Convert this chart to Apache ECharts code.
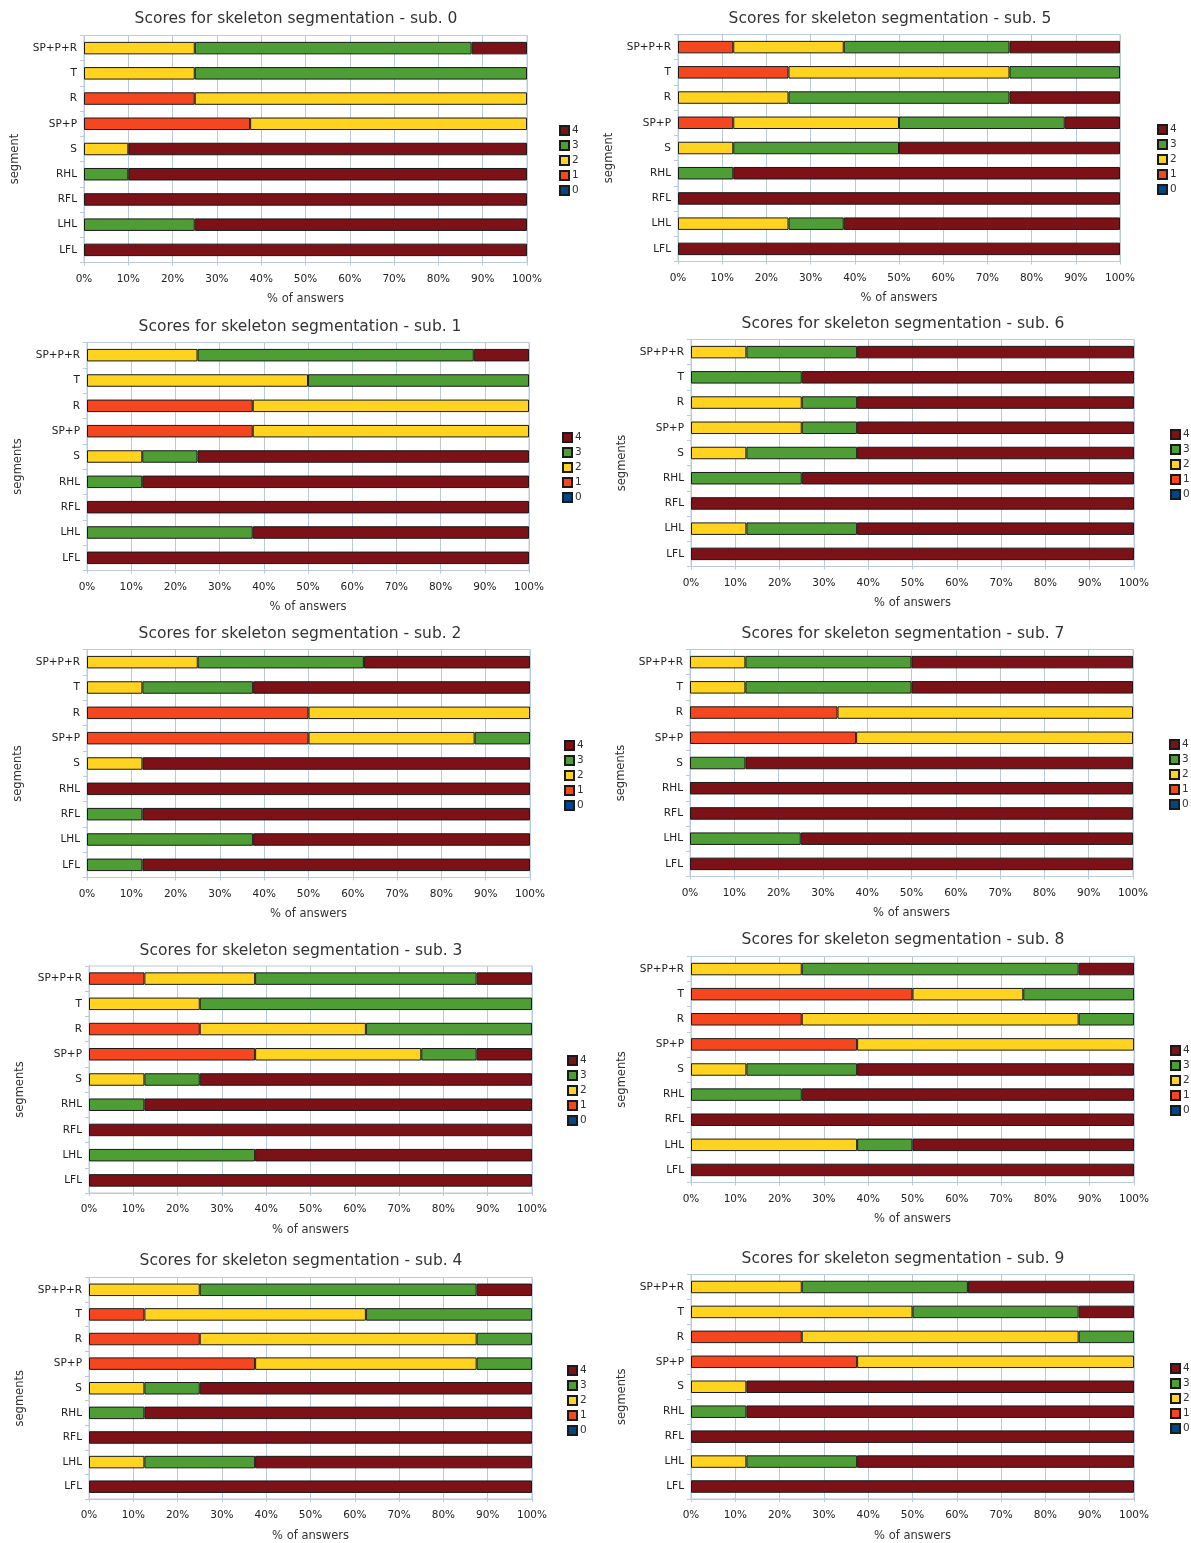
<!DOCTYPE html>
<html lang="en">
<head>
<meta charset="utf-8"/>
<title>Scores for skeleton segmentation</title>
<script type="text/javascript" src="https://cdn.jsdelivr.net/npm/echarts@6/dist/echarts.min.js"></script>
<style>
  html, body { margin: 0; padding: 0; background: #fff; }
  #container { width: 1191px; height: 1543px; }
</style>
</head>
<body>
<div id="container"></div>
<script type="text/javascript">
// segments, top to bottom
var segments = ['SP+P+R', 'T', 'R', 'SP+P', 'S', 'RHL', 'RFL', 'LHL', 'LFL'];
var scores = ['0', '1', '2', '3', '4'];
var legendOrder = ['4', '3', '2', '1', '0'];
var tickLabels = ['0%', '10%', '20%', '30%', '40%', '50%', '60%', '70%', '80%', '90%', '100%'];

// % of answers per score 0..4, one row per segment
var sub0 = [
  [0, 0, 25, 62.5, 12.5],
  [0, 0, 25, 75, 0],
  [0, 25, 75, 0, 0],
  [0, 37.5, 62.5, 0, 0],
  [0, 0, 10, 0, 90],
  [0, 0, 0, 10, 90],
  [0, 0, 0, 0, 100],
  [0, 0, 0, 25, 75],
  [0, 0, 0, 0, 100]
];
var sub1 = [
  [0, 0, 25, 62.5, 12.5],
  [0, 0, 50, 50, 0],
  [0, 37.5, 62.5, 0, 0],
  [0, 37.5, 62.5, 0, 0],
  [0, 0, 12.5, 12.5, 75],
  [0, 0, 0, 12.5, 87.5],
  [0, 0, 0, 0, 100],
  [0, 0, 0, 37.5, 62.5],
  [0, 0, 0, 0, 100]
];
var sub2 = [
  [0, 0, 25, 37.5, 37.5],
  [0, 0, 12.5, 25, 62.5],
  [0, 50, 50, 0, 0],
  [0, 50, 37.5, 12.5, 0],
  [0, 0, 12.5, 0, 87.5],
  [0, 0, 0, 0, 100],
  [0, 0, 0, 12.5, 87.5],
  [0, 0, 0, 37.5, 62.5],
  [0, 0, 0, 12.5, 87.5]
];
var sub3 = [
  [0, 12.5, 25, 50, 12.5],
  [0, 0, 25, 75, 0],
  [0, 25, 37.5, 37.5, 0],
  [0, 37.5, 37.5, 12.5, 12.5],
  [0, 0, 12.5, 12.5, 75],
  [0, 0, 0, 12.5, 87.5],
  [0, 0, 0, 0, 100],
  [0, 0, 0, 37.5, 62.5],
  [0, 0, 0, 0, 100]
];
var sub4 = [
  [0, 0, 25, 62.5, 12.5],
  [0, 12.5, 50, 37.5, 0],
  [0, 25, 62.5, 12.5, 0],
  [0, 37.5, 50, 12.5, 0],
  [0, 0, 12.5, 12.5, 75],
  [0, 0, 0, 12.5, 87.5],
  [0, 0, 0, 0, 100],
  [0, 0, 12.5, 25, 62.5],
  [0, 0, 0, 0, 100]
];
var sub5 = [
  [0, 12.5, 25, 37.5, 25],
  [0, 25, 50, 25, 0],
  [0, 0, 25, 50, 25],
  [0, 12.5, 37.5, 37.5, 12.5],
  [0, 0, 12.5, 37.5, 50],
  [0, 0, 0, 12.5, 87.5],
  [0, 0, 0, 0, 100],
  [0, 0, 25, 12.5, 62.5],
  [0, 0, 0, 0, 100]
];
var sub6 = [
  [0, 0, 12.5, 25, 62.5],
  [0, 0, 0, 25, 75],
  [0, 0, 25, 12.5, 62.5],
  [0, 0, 25, 12.5, 62.5],
  [0, 0, 12.5, 25, 62.5],
  [0, 0, 0, 25, 75],
  [0, 0, 0, 0, 100],
  [0, 0, 12.5, 25, 62.5],
  [0, 0, 0, 0, 100]
];
var sub7 = [
  [0, 0, 12.5, 37.5, 50],
  [0, 0, 12.5, 37.5, 50],
  [0, 33.3, 66.7, 0, 0],
  [0, 37.5, 62.5, 0, 0],
  [0, 0, 0, 12.5, 87.5],
  [0, 0, 0, 0, 100],
  [0, 0, 0, 0, 100],
  [0, 0, 0, 25, 75],
  [0, 0, 0, 0, 100]
];
var sub8 = [
  [0, 0, 25, 62.5, 12.5],
  [0, 50, 25, 25, 0],
  [0, 25, 62.5, 12.5, 0],
  [0, 37.5, 62.5, 0, 0],
  [0, 0, 12.5, 25, 62.5],
  [0, 0, 0, 25, 75],
  [0, 0, 0, 0, 100],
  [0, 0, 37.5, 12.5, 50],
  [0, 0, 0, 0, 100]
];
var sub9 = [
  [0, 0, 25, 37.5, 37.5],
  [0, 0, 50, 37.5, 12.5],
  [0, 25, 62.5, 12.5, 0],
  [0, 37.5, 62.5, 0, 0],
  [0, 0, 12.5, 0, 87.5],
  [0, 0, 0, 12.5, 87.5],
  [0, 0, 0, 0, 100],
  [0, 0, 12.5, 25, 62.5],
  [0, 0, 0, 0, 100]
];

var colors = ['#004586', '#f4461f', '#ffd320', '#4f9e35', '#7c1118'];
var lineColor = '#b9cada';
var font = 'DejaVu Sans';

// grid: [left, top, right, bottom] in px; title: [cx, cy]; legend: [left, top]
var panels = [
  {name: 'sub. 0', data: sub0, yName: 'segment',  grid: [84, 35.5, 527, 262.5],   title: [296, 19],   legend: [559, 125]},
  {name: 'sub. 1', data: sub1, yName: 'segments', grid: [87, 342.5, 529, 570.5],  title: [300, 327],  legend: [562, 432]},
  {name: 'sub. 2', data: sub2, yName: 'segments', grid: [87, 649.5, 530, 877.5],  title: [300, 634],  legend: [564, 740]},
  {name: 'sub. 3', data: sub3, yName: 'segments', grid: [89, 966, 532, 1193],     title: [301, 951],  legend: [567, 1055]},
  {name: 'sub. 4', data: sub4, yName: 'segments', grid: [89, 1277.5, 532, 1503.5],title: [301, 1261], legend: [567, 1365]},
  {name: 'sub. 5', data: sub5, yName: 'segment',  grid: [678, 34.5, 1120, 261.5], title: [890, 19],   legend: [1157, 124]},
  {name: 'sub. 6', data: sub6, yName: 'segments', grid: [691, 339.5, 1134, 566.5],title: [903, 324],  legend: [1170, 429]},
  {name: 'sub. 7', data: sub7, yName: 'segments', grid: [690, 649.5, 1133, 876.5],title: [903, 634],  legend: [1169, 739]},
  {name: 'sub. 8', data: sub8, yName: 'segments', grid: [691, 956.5, 1134, 1182.5],title: [903, 940], legend: [1170, 1045]},
  {name: 'sub. 9', data: sub9, yName: 'segments', grid: [691, 1274.5, 1134, 1501.5],title: [903, 1259],legend: [1170, 1363]}
];

var option = {
  backgroundColor: '#ffffff',
  animation: false,
  textStyle: {fontFamily: font},
  title: [], legend: [], grid: [], xAxis: [], yAxis: [], series: []
};

panels.forEach(function (p, i) {
  var g = p.grid;
  option.title.push({
    text: 'Scores for skeleton segmentation - ' + p.name,
    left: p.title[0], top: p.title[1],
    textAlign: 'center', textVerticalAlign: 'middle', padding: 0,
    textStyle: {fontFamily: font, fontSize: 15.5, fontWeight: 'normal', color: '#333'}
  });
  option.legend.push({
    orient: 'vertical', left: p.legend[0], top: p.legend[1], padding: 0,
    data: legendOrder, icon: 'rect', itemWidth: 9, itemHeight: 9, itemGap: 4,
    selectedMode: false,
    textStyle: {fontFamily: font, fontSize: 10.5, color: '#333', padding: [0, 0, 0, -2]}
  });
  option.grid.push({
    left: g[0], top: g[1], width: g[2] - g[0], height: g[3] - g[1],
    show: true, borderColor: lineColor, borderWidth: 1, backgroundColor: '#fff'
  });
  option.xAxis.push({
    type: 'value', gridIndex: i, min: 0, max: 100, interval: 10,
    axisLabel: {
      fontFamily: font, fontSize: 10.5, color: '#222', margin: 11,
      formatter: function (v) { return tickLabels[Math.round(v / 10)]; }
    },
    name: '% of answers', nameLocation: 'middle', nameGap: 31,
    nameTextStyle: {fontFamily: font, fontSize: 11.5, color: '#333'},
    axisLine: {show: true, lineStyle: {color: lineColor}},
    axisTick: {show: true, length: 3, lineStyle: {color: lineColor}},
    splitLine: {show: true, lineStyle: {color: lineColor, width: 1}}
  });
  option.yAxis.push({
    type: 'category', gridIndex: i, data: segments, inverse: true,
    axisLabel: {fontFamily: font, fontSize: 10.5, color: '#222', margin: 7},
    name: p.yName, nameLocation: 'middle', nameGap: 63, nameRotate: 90,
    nameTextStyle: {fontFamily: font, fontSize: 11.5, color: '#333', padding: [0, 20, 0, 0]},
    axisLine: {show: true, lineStyle: {color: lineColor}},
    axisTick: {show: true, length: 4, lineStyle: {color: lineColor}},
    splitLine: {show: false}
  });
  scores.forEach(function (s, k) {
    option.series.push({
      type: 'bar', name: s, stack: 'sub' + i,
      xAxisIndex: i, yAxisIndex: i, barWidth: 12.5,
      itemStyle: {color: colors[k], borderColor: '#1a1a1a', borderWidth: 1},
      emphasis: {disabled: true},
      data: p.data.map(function (row) { return row[k] ? row[k] : null; })
    });
  });
});

var myChart = echarts.init(document.getElementById('container'), null, {renderer: 'canvas'});
myChart.setOption(option);
</script>
</body>
</html>
